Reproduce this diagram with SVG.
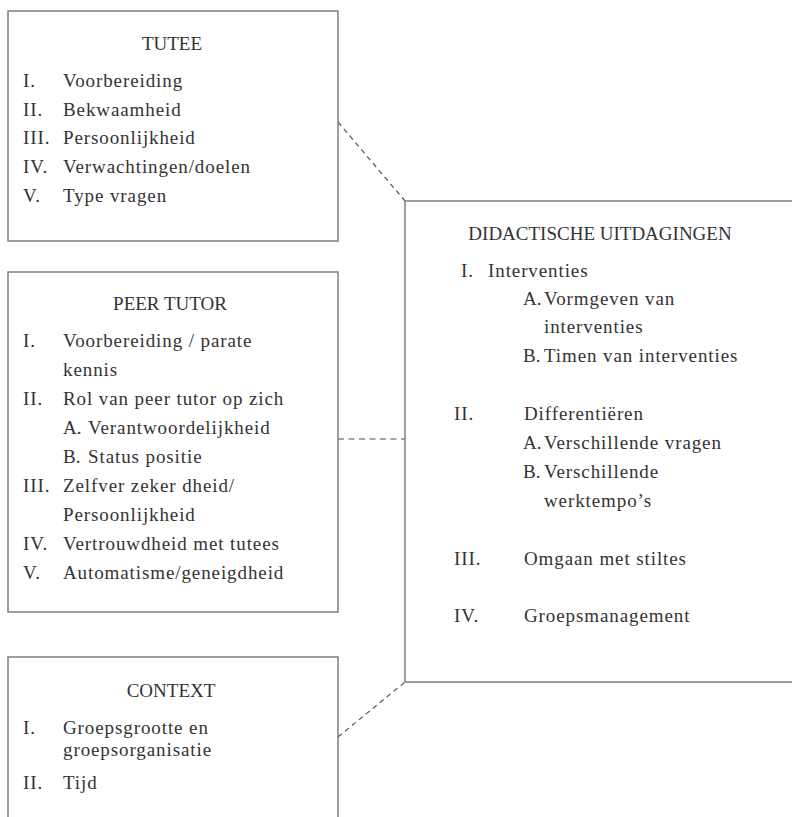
<svg xmlns="http://www.w3.org/2000/svg" width="792" height="817" viewBox="0 0 792 817">
<style>
.box{fill:#fff;stroke:#7f7f7f;stroke-width:1.5}
.t{font-family:"Liberation Serif",serif;font-size:19px;fill:#333;letter-spacing:0.9px}
.n{font-family:"Liberation Serif",serif;font-size:19px;fill:#333}
.h{font-family:"Liberation Serif",serif;font-size:19px;fill:#333;text-anchor:middle}
.dash{fill:none;stroke:#555;stroke-width:1.2;stroke-dasharray:5 4}
.dashh{fill:none;stroke:#888;stroke-width:1.5;stroke-dasharray:6 4.5}
</style>
<rect width="792" height="817" fill="#fff"/>
<g id="connectors">
<line class="dash" x1="338" y1="122" x2="405" y2="201"/>
<line class="dashh" x1="338" y1="439" x2="405" y2="439"/>
<line class="dash" x1="338" y1="737" x2="405" y2="682"/>
</g>
<g id="tutee">
<rect class="box" x="8" y="11" width="330" height="230"/>
<text class="h" x="172" y="50">TUTEE</text>
<text class="t" x="23" y="87">I.</text><text class="t" x="63" y="87">Voorbereiding</text>
<text class="t" x="23" y="116">II.</text><text class="t" x="63" y="116">Bekwaamheid</text>
<text class="t" x="23" y="144">III.</text><text class="t" x="63" y="144">Persoonlijkheid</text>
<text class="t" x="23" y="173">IV.</text><text class="t" x="63" y="173">Verwachtingen/doelen</text>
<text class="t" x="23" y="202">V.</text><text class="t" x="63" y="202">Type vragen</text>
</g>
<g id="peer-tutor">
<rect class="box" x="8" y="272" width="330" height="340"/>
<text class="h" x="170" y="310">PEER TUTOR</text>
<text class="t" x="23" y="347">I.</text><text class="t" x="63" y="347">Voorbereiding  / parate</text>
<text class="t" x="63" y="376">kennis</text>
<text class="t" x="23" y="405">II.</text><text class="t" x="63" y="405">Rol van peer tutor op zich</text>
<text class="n" x="63" y="434">A.</text><text class="t" x="88" y="434">Verantwoordelijkheid</text>
<text class="n" x="63" y="463">B.</text><text class="t" x="88" y="463">Status positie</text>
<text class="t" x="23" y="492">III.</text><text class="t" x="63" y="492">Zelfver zeker dheid/</text>
<text class="t" x="63" y="521">Persoonlijkheid</text>
<text class="t" x="23" y="550">IV.</text><text class="t" x="63" y="550">Vertrouwdheid met tutees</text>
<text class="t" x="23" y="579">V.</text><text class="t" x="63" y="579">Automatisme/geneigdheid</text>
</g>
<g id="context">
<rect class="box" x="8" y="657" width="330" height="200"/>
<text class="h" x="171" y="697">CONTEXT</text>
<text class="t" x="23" y="734">I.</text><text class="t" x="63" y="734">Groepsgrootte en</text>
<text class="t" x="63" y="756">groepsorganisatie</text>
<text class="t" x="23" y="789">II.</text><text class="t" x="63" y="789">Tijd</text>
</g>
<g id="didactische-uitdagingen">
<rect class="box" x="405" y="201" width="420" height="481"/>
<text class="h" x="600" y="240">DIDACTISCHE UITDAGINGEN</text>
<text class="t" x="461" y="277">I.</text><text class="t" x="488" y="277">Interventies</text>
<text class="n" x="523" y="305">A.</text><text class="t" x="544" y="305">Vormgeven van</text>
<text class="t" x="544" y="333">interventies</text>
<text class="n" x="523" y="362">B.</text><text class="t" x="544" y="362">Timen van interventies</text>
<text class="t" x="454" y="420">II.</text><text class="t" x="524" y="420">Differentiëren</text>
<text class="n" x="523" y="449">A.</text><text class="t" x="544" y="449">Verschillende vragen</text>
<text class="n" x="523" y="478">B.</text><text class="t" x="544" y="478">Verschillende</text>
<text class="t" x="544" y="507">werktempo’s</text>
<text class="t" x="454" y="565">III.</text><text class="t" x="524" y="565">Omgaan met stiltes</text>
<text class="t" x="454" y="622">IV.</text><text class="t" x="524" y="622">Groepsmanagement</text>
</g>
</svg>
